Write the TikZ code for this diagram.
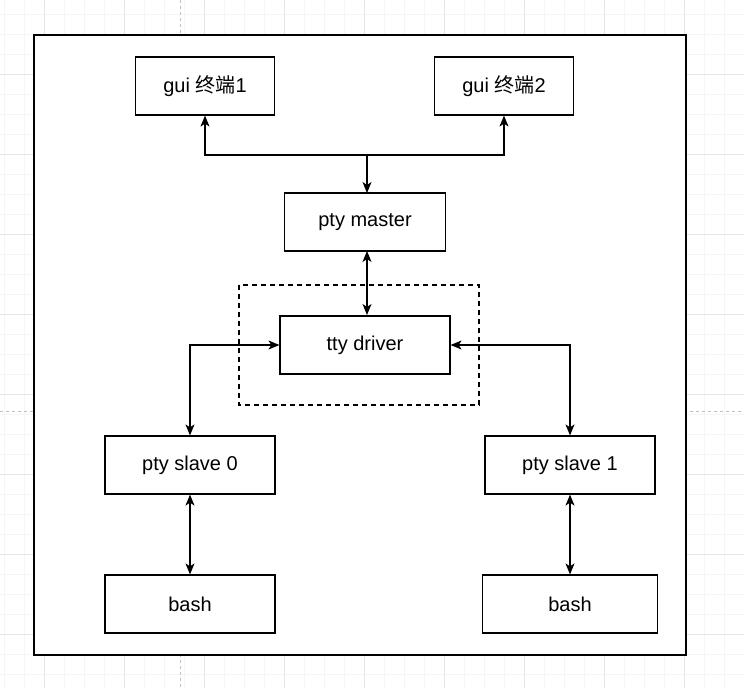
\documentclass[tikz,border=0pt]{standalone}
\usepackage{fontspec}
\setmainfont{Liberation Sans}
\newfontfamily\cjk{Noto Sans CJK SC}
\usetikzlibrary{positioning,arrows.meta}
\tikzset{
    box/.style={draw,line width=1.2pt,inner sep=0pt,minimum width=#1,minimum height=58pt,font=\fontsize{20}{24}\selectfont},
    box/.default=170pt,
    tip/.style={Stealth[length=11pt,width=9pt,inset=3pt]},
    link/.style={{Stealth[length=11pt,width=9pt,inset=3pt]}-{Stealth[length=11pt,width=9pt,inset=3pt]},line width=1.2pt}
}
\begin{document}
\begin{tikzpicture}[x=1pt,y=-1pt]
    \useasboundingbox (0,0) rectangle (744,688);
    % canvas grid
    \foreach \x in {4,24,...,744} \draw[black!4,line width=0.8pt] (\x,0) -- (\x,688);
    \foreach \y in {14,34,...,688} \draw[black!4,line width=0.8pt] (0,\y) -- (744,\y);
    \foreach \x in {44,124,...,744} \draw[black!10,line width=0.8pt] (\x,0) -- (\x,688);
    \foreach \y in {74,154,...,688} \draw[black!10,line width=0.8pt] (0,\y) -- (744,\y);
    \draw[black!25,dashed] (180,0) -- (180,688);
    \draw[black!25,dashed] (0,411) -- (744,411);

    % outer frame
    \filldraw[fill=white,line width=1.2pt] (34,35) rectangle (686,655);
    \draw[line width=1.2pt,dash pattern=on 5pt off 4pt] (239,285) rectangle (479,405);

    % nodes
    \node[box=139pt] (gui1) at (205,86) {gui {\cjk 终端}1};
    \node[box=139pt] (gui2) at (504,86) {gui {\cjk 终端}2};
    \node[box=161pt] (master) at (365,222) {pty master};
    \node[box] (tty) at (365,345) {tty driver};
    \node[box] (slave0) at (190,465) {pty slave 0};
    \node[box] (slave1) at (570,465) {pty slave 1};
    \node[box] (bash0) at (190,604) {bash};
    \node[box=175pt] (bash1) at (570,604) {bash};

    % connectors
    \coordinate (split) at (367,155);
    \draw[link] (gui1.south) |- (split) -| (gui2.south);
    \draw[-{Stealth[length=11pt,width=9pt,inset=3pt]},line width=1.2pt] (split) -- (367,193);
    \draw[link] (367,251) -- (367,315);
    \draw[link] (tty.west) -| (slave0.north);
    \draw[link] (tty.east) -| (slave1.north);
    \draw[link] (slave0) -- (bash0);
    \draw[link] (slave1) -- (bash1);
\end{tikzpicture}
\end{document}
